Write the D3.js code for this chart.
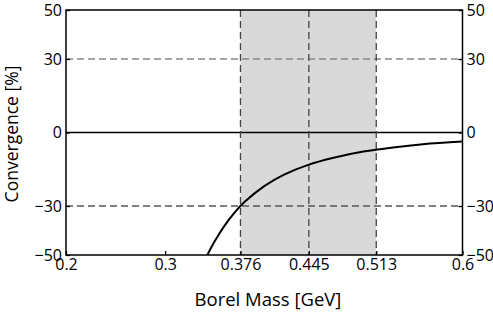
<!DOCTYPE html>
<html><head><meta charset="utf-8">
<script src="https://cdn.jsdelivr.net/npm/d3@7"></script>
<style>body{margin:0;background:#fff}svg{display:block}text{font-family:"Open Sans",sans-serif;fill:#000}</style>
</head><body><svg id="c" width="493" height="312"></svg>
<script>
const xTicks = [0.2, 0.3, 0.376, 0.445, 0.513, 0.6];
const yTicks = [-50, -30, 0, 30, 50];
const band = [0.376, 0.513];
const vLines = [0.376, 0.445, 0.513];
const curveX = [0.3426, 0.35, 0.36, 0.37, 0.38, 0.40, 0.42, 0.445, 0.47, 0.50, 0.53, 0.56, 0.60];
const curveY = [-50, -44.4, -38.0, -32.7, -28.4, -21.9, -17.2, -13.1, -10.3, -7.8, -6.1, -4.8, -3.7];

const svg = d3.select("#c");
const L = 66, R = 462.5, T = 10, B = 255;
const x = d3.scaleLinear().domain([0.2, 0.6]).range([L, R]);
const y = d3.scaleLinear().domain([-50, 50]).range([B, T]);

svg.append("rect").attr("x", x(band[0])).attr("y", T).attr("width", x(band[1]) - x(band[0])).attr("height", B - T).attr("fill", "#d9d9d9");

svg.append("line").attr("x1", L).attr("x2", R).attr("y1", y(30)).attr("y2", y(30)).attr("stroke", "#888").attr("stroke-width", 1.3).attr("stroke-dasharray", "7,4");
svg.append("line").attr("x1", L).attr("x2", R).attr("y1", y(-30)).attr("y2", y(-30)).attr("stroke", "#555").attr("stroke-width", 1.3).attr("stroke-dasharray", "7,4");
svg.append("line").attr("x1", L).attr("x2", R).attr("y1", y(0)).attr("y2", y(0)).attr("stroke", "#000").attr("stroke-width", 1.3);

vLines.forEach(v => {
  svg.append("line").attr("x1", x(v)).attr("x2", x(v)).attr("y1", T).attr("y2", B).attr("stroke", "#444").attr("stroke-width", 1.3).attr("stroke-dasharray", "7,4");
});

const pts = curveX.map((d, i) => [d, curveY[i]]);
svg.append("path").datum(pts).attr("fill", "none").attr("stroke", "#000").attr("stroke-width", 2)
  .attr("d", d3.line().x(d => x(d[0])).y(d => y(d[1])).curve(d3.curveCatmullRom.alpha(0.5)));

const fmtX = d => String(d);
const ax = svg.append("g").attr("transform", `translate(0,${B})`).call(d3.axisBottom(x).tickValues(xTicks).tickSizeInner(-4).tickSizeOuter(0).tickPadding(3).tickFormat(fmtX));
const ay = svg.append("g").attr("transform", `translate(${L},0)`).call(d3.axisLeft(y).tickValues(yTicks).tickSizeInner(-4).tickSizeOuter(0).tickPadding(4));
const ay2 = svg.append("g").attr("transform", `translate(${R},0)`).call(d3.axisRight(y).tickValues(yTicks).tickSizeInner(-4).tickSizeOuter(0).tickPadding(4));
[ax, ay, ay2].forEach(g => {
  g.select(".domain").remove();
  g.selectAll("line").attr("stroke", "#000").attr("stroke-width", 1.3);
  g.selectAll("text").attr("font-size", 16).attr("font-family", "Open Sans").attr("fill", "#000");
});
ax.selectAll("text").attr("dy", "0.72em");
svg.append("rect").attr("x", L).attr("y", T).attr("width", R - L).attr("height", B - T).attr("fill", "none").attr("stroke", "#000").attr("stroke-width", 1.5);

svg.append("text").attr("x", 268).attr("y", 306).attr("text-anchor", "middle").attr("font-size", 18.5).text("Borel Mass [GeV]");
svg.append("text").attr("transform", `translate(18,${134}) rotate(-90)`).attr("text-anchor", "middle").attr("font-size", 17.5).text("Convergence [%]");
</script></body></html>
